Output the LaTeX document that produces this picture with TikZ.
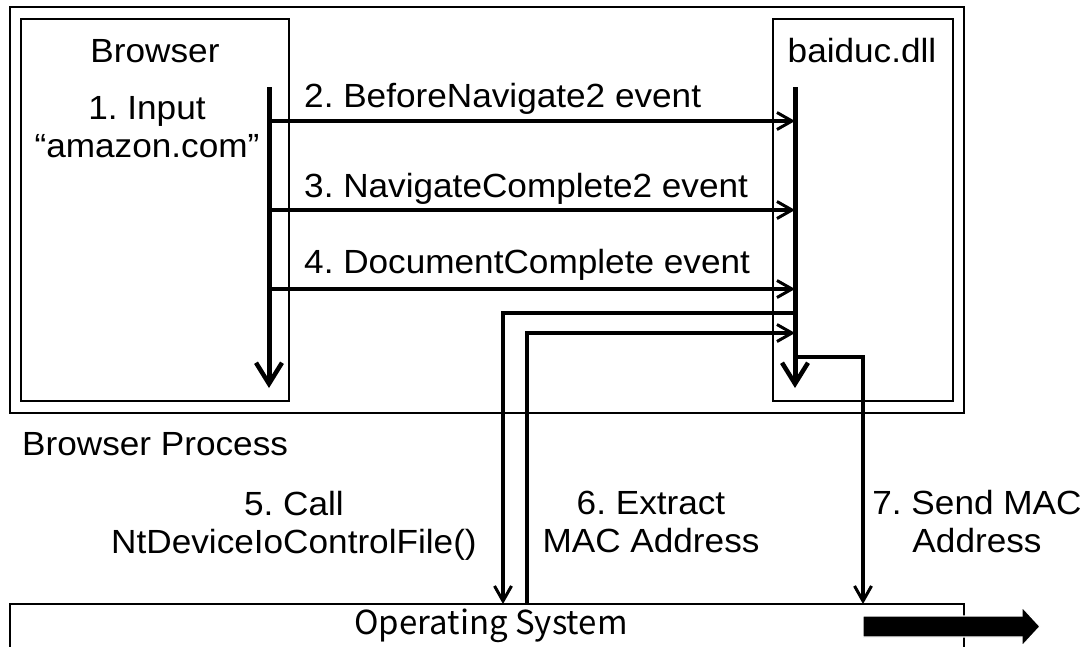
\documentclass[tikz,border=0pt]{standalone}
\usepackage{fontspec}
\setmainfont{Liberation Sans}[FakeStretch=1.05]
\newfontfamily\osfont{Noto Sans CJK JP}
\usetikzlibrary{arrows.meta}
\frenchspacing
\begin{document}
\begin{tikzpicture}[x=1pt,y=-1pt,
  lbl/.style={inner sep=0pt,font=\fontsize{33.5}{37.5}\selectfont,align=center},
  frame/.style={draw=black,line width=2pt},
  lifeline/.style={line width=5pt,-{Straight Barb[length=21pt,width=26pt,line width=4.5pt]}},
  msg/.style={line width=3.4pt,-{Straight Barb[length=15pt,width=17pt,line width=3pt]}},
  call/.style={line width=3.8pt,-{Straight Barb[length=15pt,width=17pt,line width=3pt]}},
  bigarrow/.style={fill=black,draw=white,line width=1.2pt}]
\useasboundingbox (0,0) rectangle (1092,646);
\clip (0,0) rectangle (1092,646);

% process frame and the two components inside it
\draw[frame,line width=2.4pt] (10,7) rectangle (964,413);
\draw[frame] (21,19) rectangle (289,401);
\draw[frame] (773,19) rectangle (953,401);
% operating system strip along the bottom
\draw[frame] (10,604) rectangle (964,670);

% lifelines
\coordinate (bTop) at (269,87);
\coordinate (bEnd) at (269,388);
\coordinate (dTop) at (795,87);
\coordinate (dEnd) at (795,388);
\draw[lifeline] (bTop) -- (bEnd);
\draw[lifeline] (dTop) -- (dEnd);

% event messages
\coordinate (b2) at (269,121);
\coordinate (d2) at (795,121);
\coordinate (b3) at (269,210);
\coordinate (d3) at (795,210);
\coordinate (b4) at (269,289);
\coordinate (d4) at (795,289);
\draw[msg] (b2) -- (d2);
\draw[msg] (b3) -- (d3);
\draw[msg] (b4) -- (d4);

% calls down to the operating system and back
\coordinate (d5) at (795,313);
\coordinate (os5) at (503,604);
\coordinate (os6) at (527,604);
\coordinate (d6) at (795,333);
\coordinate (d7) at (795,357);
\coordinate (os7) at (863,604);
\draw[call] (d5) -| (os5);
\draw[call] (os6) |- (d6);
\draw[msg] (d7) -| (os7);

% outgoing transmission
\filldraw[bigarrow]
  (863,616) -- (1022,616) -- (1022,607) -- (1040,626.5) -- (1022,646) -- (1022,637) -- (863,637) -- cycle;

% labels (multi-line labels are placed by the baseline of their last line)
\node[lbl,anchor=base] (browser) at (155,62) {Browser};
\node[lbl,anchor=base] (dll) at (862,62) {baiduc.dll};
\node[lbl,anchor=base] (input) at (147,157) {1. Input\\“amazon.com”};
\node[lbl,anchor=base west] (e2) at (304,107) {2. BeforeNavigate2 event};
\node[lbl,anchor=base west] (e3) at (304,197) {3. NavigateComplete2 event};
\node[lbl,anchor=base west] (e4) at (304,273) {4. DocumentComplete event};
\node[lbl,anchor=base west] (proc) at (22,455) {Browser Process};
\node[lbl,anchor=base] (l5) at (294,553) {5. Call\\NtDeviceIoControlFile()};
\node[lbl,anchor=base] (l6) at (651,552) {6. Extract\\MAC Address};
\node[lbl,anchor=base] (l7) at (977,552) {7. Send MAC\\Address};
\node[inner sep=0pt,anchor=base,font=\osfont\fontsize{33}{33}\selectfont] (os) at (491,634) {Operating System};
\end{tikzpicture}
\end{document}
